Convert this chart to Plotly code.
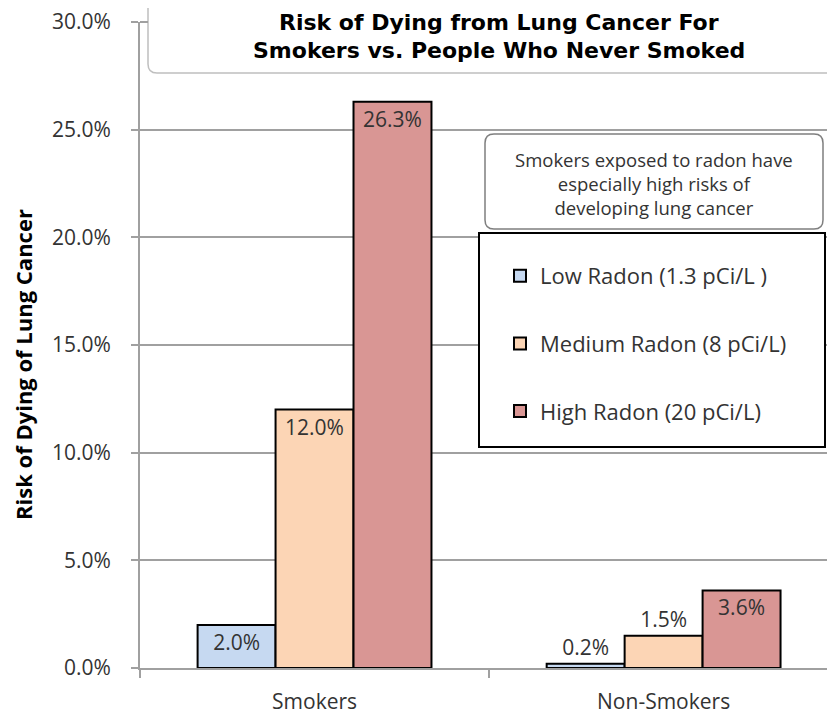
import plotly.graph_objects as go

categories = ["Smokers", "Non-Smokers"]
series_names = ["Low Radon (1.3 pCi/L )", "Medium Radon (8 pCi/L)", "High Radon (20 pCi/L)"]
low_radon = [0.020, 0.002]
medium_radon = [0.120, 0.015]
high_radon = [0.263, 0.036]
label_positions = [["inside", "outside"], ["inside", "outside"], ["inside", "inside"]]
colors = ["#C6D9F1", "#FCD5B5", "#D99694"]
y_ticks = [0, 0.05, 0.10, 0.15, 0.20, 0.25, 0.30]

FONT = "Open Sans"
TFONT = "DejaVu Sans"
TXT = "#333333"
GRID = "#A0A0A0"

OFF = 8  # page body margin
W, H = 835 - OFF, 718 - OFF
ML, MR, MT, MB = 140 - OFF, 0, 22 - OFF, 50
PW = W - ML - MR
PH = H - MT - MB


def px(x):
    return (x - OFF - ML) / PW


def py(y):
    return (H - MB - (y - OFF)) / PH


fig = go.Figure()
for name, vals, pos, col in zip(series_names, [low_radon, medium_radon, high_radon], label_positions, colors):
    fig.add_trace(go.Bar(
        x=categories, y=vals, name=name,
        marker=dict(color=col, line=dict(color="#000000", width=2)),
        text=[f"{v*100:.1f}%" for v in vals],
        textposition=pos, insidetextanchor="end",
        textfont=dict(family=FONT, size=21, color=TXT),
        outsidetextfont=dict(family=FONT, size=21, color=TXT),
        insidetextfont=dict(family=FONT, size=21, color=TXT),
        textangle=0, cliponaxis=False, legendgroup=name,
    ))


def rounded_box(x0, y0, x1, y1, r):
    rx, ry = r / PW, r / PH
    X0, X1 = px(x0), px(x1)
    Y0, Y1 = py(y0), py(y1)
    return (f"M {X0+rx},{Y0} L {X1-rx},{Y0} Q {X1},{Y0} {X1},{Y0-ry} "
            f"L {X1},{Y1+ry} Q {X1},{Y1} {X1-rx},{Y1} "
            f"L {X0+rx},{Y1} Q {X0},{Y1} {X0},{Y1+ry} "
            f"L {X0},{Y0-ry} Q {X0},{Y0} {X0+rx},{Y0} Z")


shapes = [
    dict(type="path", xref="paper", yref="paper", path=rounded_box(148, -12, 850, 73, 9),
         fillcolor="white", line=dict(color="#BFBFBF", width=1.5), layer="above"),
    dict(type="path", xref="paper", yref="paper", path=rounded_box(485, 134, 823, 229, 9),
         fillcolor="white", line=dict(color="#7F7F7F", width=1.5), layer="above"),
    dict(type="rect", xref="paper", yref="paper", x0=px(479), x1=px(825), y0=py(447), y1=py(233),
         fillcolor="white", line=dict(color="#000000", width=2), layer="above"),
    dict(type="line", xref="paper", yref="paper", x0=px(140), x1=px(148), y0=1, y1=1,
         line=dict(color=GRID, width=2), layer="above"),
]

annotations = [
    dict(text="<b>Risk of Dying from Lung Cancer For</b>",
         xref="paper", yref="paper", x=px(499), y=py(22), xanchor="center", yanchor="middle",
         showarrow=False, font=dict(family=TFONT, size=22, color="#000000")),
    dict(text="<b>Smokers vs. People Who Never Smoked</b>",
         xref="paper", yref="paper", x=px(499), y=py(51), xanchor="center", yanchor="middle",
         showarrow=False, font=dict(family=TFONT, size=22, color="#000000")),
    dict(text="Smokers exposed to radon have<br>especially high risks of<br>developing lung cancer",
         xref="paper", yref="paper", x=px(654), y=py(183), xanchor="center", yanchor="middle",
         showarrow=False, font=dict(family=FONT, size=18.5, color=TXT)),
    dict(text="<b>Risk of Dying of Lung Cancer</b>", textangle=-90,
         xref="paper", yref="paper", x=px(23), y=py(365), xanchor="center", yanchor="middle",
         showarrow=False, font=dict(family=FONT, size=22, color="#000000")),
]

fig.update_layout(
    width=W, height=H,
    margin=dict(l=ML, r=MR, t=MT, b=MB, pad=0),
    paper_bgcolor="white", plot_bgcolor="white",
    barmode="group", bargap=0.33, bargroupgap=0,
    font=dict(family=FONT, color=TXT),
    showlegend=True,
    legend=dict(x=px(500), y=py(255), xanchor="left", yanchor="top",
                bgcolor="rgba(0,0,0,0)", borderwidth=0,
                font=dict(family=FONT, size=22, color=TXT),
                tracegroupgap=36, traceorder="grouped"),
    shapes=shapes, annotations=annotations,
    xaxis=dict(type="category", categoryorder="array", categoryarray=categories,
               range=[-0.5, 1.491], showgrid=False,
               showline=True, linecolor=GRID, linewidth=2,
               ticks="outside", tickson="boundaries", ticklen=8, tickwidth=2, tickcolor=GRID,
               tickfont=dict(family=FONT, size=21, color=TXT), ticklabelstandoff=14),
    yaxis=dict(range=[0, 0.30], tickvals=y_ticks, tickformat=".1%",
               showgrid=True, gridcolor=GRID, gridwidth=2,
               showline=True, linecolor=GRID, linewidth=2,
               ticks="outside", ticklen=7, tickwidth=2, tickcolor=GRID,
               tickfont=dict(family=FONT, size=21, color=TXT), ticklabelstandoff=16,
               ticklabeloverflow="allow", zeroline=False),
)

fig.write_html("out.html")
